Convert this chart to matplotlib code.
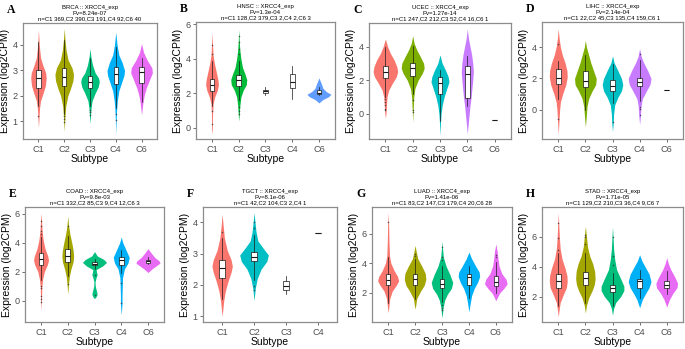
import numpy as np
import matplotlib
matplotlib.use('Agg')
import matplotlib.pyplot as plt

plt.rcParams['font.family'] = ['Liberation Sans', 'DejaVu Sans']

# ggplot hue palettes for 2..5 violins
PAL = {
    2: ['#F8766D', '#00BFC4'],
    3: ['#F8766D', '#00BA38', '#619CFF'],
    4: ['#F8766D', '#7CAE00', '#00BFC4', '#C77CFF'],
    5: ['#F8766D', '#A3A500', '#00BF7D', '#00B0F6', '#E76BF3'],
}

# ---------------- data ----------------
# box: [q1, median, q3, whisker_low, whisker_high]
# violin: list of (y, half-width) profile points, [] = no violin drawn

# A  BRCA
brca_title = ['BRCA :: XRCC4_exp', 'Pv=8.24e-07', 'n=C1 369,C2 390,C3 191,C4 92,C6 40']
brca_groups = ['C1', 'C2', 'C3', 'C4', 'C6']
brca_ticks = [1, 2, 3, 4]
brca_ylim = (0.3, 4.86)
brca_box = [[2.30, 2.68, 3.02, 1.60, 4.10], [2.38, 2.75, 3.08, 1.30, 4.20],
            [2.30, 2.55, 2.78, 1.60, 3.50], [2.48, 2.85, 3.15, 1.50, 3.90],
            [2.50, 2.92, 3.15, 1.75, 3.50]]
brca_out = [[1.2], [1.1, 1.2, 0.95], [1.25, 1.35, 1.45], [1.05, 1.3], []]
brca_violin = [
    [(4.6, 0), (4.0, .03), (3.5, .08), (3.2, .17), (2.9, .28), (2.7, .30), (2.4, .27), (2.1, .18), (1.8, .08), (1.5, .04), (1.1, .02), (.75, 0)],
    [(4.65, 0), (4.2, .03), (3.8, .07), (3.4, .15), (3.1, .30), (2.85, .36), (2.6, .34), (2.3, .25), (2.0, .14), (1.6, .06), (1.2, .03), (.6, 0)],
    [(3.85, 0), (3.5, .04), (3.2, .10), (2.9, .20), (2.7, .33), (2.55, .36), (2.35, .32), (2.1, .20), (1.8, .08), (1.5, .04), (1.2, .02), (.9, 0)],
    [(4.5, 0), (4.0, .05), (3.6, .12), (3.3, .25), (3.0, .34), (2.8, .32), (2.5, .22), (2.2, .12), (1.8, .06), (1.4, .03), (1.0, .015), (.5, 0)],
    [(4.05, 0), (3.7, .08), (3.4, .22), (3.1, .40), (2.9, .42), (2.6, .30), (2.3, .18), (2.0, .10), (1.7, .05), (1.25, 0)],
]

# B  HNSC
hnsc_title = ['HNSC :: XRCC4_exp', 'Pv=1.3e-04', 'n=C1 128,C2 379,C3 2,C4 2,C6 3']
hnsc_groups = ['C1', 'C2', 'C3', 'C4', 'C6']
hnsc_ticks = [0, 2, 4, 6]
hnsc_ylim = (-0.64, 6.14)
hnsc_box = [[2.15, 2.50, 2.85, 1.30, 3.90], [2.45, 2.75, 3.05, 1.60, 3.90],
            [2.05, 2.12, 2.22, 1.90, 2.40], [2.30, 2.65, 3.15, 1.70, 3.60],
            [1.95, 2.00, 2.20, 1.90, 2.40]]
hnsc_out = [[4.3, 4.8, 0.25, 1.0], [4.3, 4.6, 5.0, 5.3, 1.2, 1.0, 0.8], [], [], []]
hnsc_violin = [
    [(5.5, 0), (4.8, .02), (4.2, .04), (3.8, .08), (3.3, .15), (2.8, .22), (2.5, .24), (2.2, .20), (1.8, .10), (1.4, .04), (.8, .02), (0, .015), (-.4, 0)],
    [(5.7, 0), (5.0, .02), (4.5, .04), (4.0, .08), (3.5, .14), (3.1, .24), (2.8, .30), (2.5, .28), (2.2, .17), (1.8, .08), (1.3, .04), (.8, .02), (.4, 0)],
    [], [],
    [(2.9, 0), (2.6, .08), (2.3, .15), (2.1, .28), (1.95, .45), (1.8, .35), (1.65, .15), (1.45, 0)],
]

# C  UCEC
ucec_title = ['UCEC :: XRCC4_exp', 'Pv=1.27e-14', 'n=C1 247,C2 212,C3 52,C4 16,C6 1']
ucec_groups = ['C1', 'C2', 'C3', 'C4', 'C6']
ucec_ticks = [0, 2, 4]
ucec_ylim = (-1.5, 5.4)
ucec_box = [[2.10, 2.50, 2.85, 1.00, 4.00], [2.25, 2.70, 3.00, 1.20, 4.05],
            [1.15, 1.85, 2.20, -0.40, 2.60], [0.95, 2.35, 2.85, 0.45, 3.45],
            [-0.35, -0.35, -0.35, -0.35, -0.35]]
ucec_out = [[0.9, 0.7, 0.5, 0.3, 0.2], [0.8, 0.25, 0.1], [], [], []]
ucec_violin = [
    [(4.45, 0), (4.0, .08), (3.6, .18), (3.2, .32), (2.8, .42), (2.5, .45), (2.2, .40), (1.8, .25), (1.4, .12), (1.0, .06), (.5, .04), (0, .02), (-.25, 0)],
    [(4.65, 0), (4.2, .05), (3.8, .15), (3.4, .28), (3.0, .40), (2.7, .42), (2.4, .35), (2.0, .20), (1.5, .08), (1.0, .04), (.3, .02), (-.5, 0)],
    [(3.5, 0), (3.0, .08), (2.6, .20), (2.2, .30), (1.9, .33), (1.5, .25), (1.0, .15), (.5, .08), (0, .04), (-.5, .02), (-1.3, 0)],
    [(5.05, 0), (4.5, .04), (4.0, .10), (3.5, .16), (3.0, .20), (2.5, .22), (2.0, .20), (1.5, .17), (1.0, .14), (.5, .10), (0, .07), (-.5, .04), (-1.2, 0)],
    [],
]

# D  LIHC
lihc_title = ['LIHC :: XRCC4_exp', 'Pv=2.14e-04', 'n=C1 22,C2 45,C3 135,C4 159,C6 1']
lihc_groups = ['C1', 'C2', 'C3', 'C4', 'C6']
lihc_ticks = [0, 2, 4]
lihc_ylim = (-1.88, 5.62)
lihc_box = [[1.65, 2.00, 2.60, 0.70, 3.10], [1.45, 1.85, 2.45, -0.05, 3.50],
            [1.20, 1.50, 1.90, 0.40, 2.90], [1.50, 1.80, 2.05, 0.55, 3.20],
            [1.25, 1.25, 1.25, 1.25, 1.25]]
lihc_out = [[4.2, -0.6], [], [-0.8], [3.6, 0.2, 0.05, -0.35], []]
lihc_violin = [
    [(5.2, 0), (4.6, .03), (4.0, .08), (3.5, .15), (3.0, .25), (2.5, .32), (2.1, .33), (1.6, .28), (1.0, .16), (.5, .08), (0, .05), (-.6, .03), (-1.6, 0)],
    [(4.45, 0), (4.0, .04), (3.5, .12), (3.0, .20), (2.5, .30), (2.0, .40), (1.6, .38), (1.2, .25), (.7, .12), (.2, .06), (-.5, .03), (-1.1, 0)],
    [(3.45, 0), (3.0, .06), (2.5, .20), (2.0, .33), (1.6, .38), (1.2, .33), (.8, .20), (.3, .08), (-.3, .04), (-.8, .03), (-1.4, 0)],
    [(3.9, 0), (3.4, .06), (3.0, .15), (2.5, .30), (2.0, .42), (1.6, .38), (1.2, .25), (.7, .10), (.2, .05), (-.4, .03), (-.95, 0)],
    [],
]

# E  COAD
coad_title = ['COAD :: XRCC4_exp', 'Pv=9.8e-03', 'n=C1 332,C2 85,C3 9,C4 12,C6 3']
coad_groups = ['C1', 'C2', 'C3', 'C4', 'C6']
coad_ticks = [0, 2, 4, 6]
coad_ylim = (-1.47, 6.48)
coad_box = [[2.50, 2.90, 3.30, 1.40, 4.40], [2.65, 3.10, 3.55, 1.70, 4.50],
            [2.45, 2.55, 2.70, 2.20, 2.90], [2.45, 2.85, 3.05, 1.90, 3.50],
            [2.60, 2.75, 2.85, 2.55, 3.05]]
coad_out = [[4.6, 4.8, 5.2, 5.5, 1.0, 0.9, 0.3, 0.1, -0.1], [5.2, 1.15], [1.8, 0.4], [1.25, -0.15], []]
coad_violin = [
    [(6.05, 0), (5.5, .02), (4.8, .04), (4.2, .08), (3.6, .15), (3.1, .25), (2.8, .28), (2.5, .24), (2.0, .12), (1.5, .06), (1.0, .03), (.3, .02), (-.7, 0)],
    [(5.85, 0), (5.2, .03), (4.6, .08), (4.0, .15), (3.5, .20), (3.1, .22), (2.7, .20), (2.2, .12), (1.7, .06), (1.2, .03), (.45, 0)],
    [(3.4, 0), (3.1, .10), (2.85, .35), (2.65, .45), (2.4, .30), (2.15, .06), (1.95, .08), (1.8, .10), (1.6, .06), (1.3, .02), (1.0, .03), (.7, .07), (.45, .10), (.25, .05), (.15, 0)],
    [(4.4, 0), (4.0, .06), (3.5, .18), (3.0, .30), (2.6, .25), (2.2, .12), (1.6, .05), (1.0, .04), (.4, .03), (-.2, .03), (-1.0, 0)],
    [(3.6, 0), (3.3, .12), (3.0, .25), (2.75, .42), (2.6, .45), (2.4, .30), (2.2, .15), (1.95, 0)],
]

# F  TGCT
tgct_title = ['TGCT :: XRCC4_exp', 'Pv=8.1e-06', 'n=C1 42,C2 104,C3 2,C4 1']
tgct_groups = ['C1', 'C2', 'C3', 'C4']
tgct_ticks = [1, 2, 3, 4]
tgct_ylim = (0.82, 4.48)
tgct_box = [[2.22, 2.55, 2.80, 1.55, 3.50], [2.75, 2.88, 3.05, 2.15, 3.60],
            [1.85, 1.98, 2.12, 1.70, 2.28], [3.65, 3.65, 3.65, 3.65, 3.65]]
tgct_out = [[3.7], [3.8, 4.0, 1.95, 1.85], [], []]
tgct_violin = [
    [(4.25, 0), (3.9, .03), (3.5, .07), (3.1, .16), (2.8, .28), (2.6, .32), (2.4, .28), (2.1, .18), (1.8, .10), (1.5, .05), (1.2, .02), (1.0, 0)],
    [(4.3, 0), (4.0, .03), (3.7, .06), (3.4, .12), (3.15, .30), (2.95, .45), (2.75, .40), (2.5, .22), (2.2, .10), (1.9, .04), (1.5, 0)],
    [], [],
]

# G  LUAD
luad_title = ['LUAD :: XRCC4_exp', 'Pv=1.41e-06', 'n=C1 83,C2 147,C3 179,C4 20,C6 28']
luad_groups = ['C1', 'C2', 'C3', 'C4', 'C6']
luad_ticks = [2, 4, 6]
luad_ylim = (0.02, 7.8)
luad_box = [[2.55, 2.85, 3.30, 1.30, 4.40], [2.55, 2.95, 3.25, 1.60, 4.30],
            [2.30, 2.60, 2.90, 1.40, 3.80], [2.55, 3.05, 3.30, 1.65, 3.80],
            [2.45, 2.70, 3.10, 2.00, 4.10]]
luad_out = [[6.8], [4.6, 4.5], [5.1, 4.4, 4.2, 1.2, 1.0, 0.8], [], [4.4, 4.55]]
luad_violin = [
    [(7.45, 0), (6.5, .02), (5.5, .03), (4.5, .05), (4.0, .10), (3.5, .22), (3.1, .35), (2.8, .39), (2.5, .30), (2.1, .15), (1.6, .06), (1.1, .03), (.65, 0)],
    [(5.2, 0), (4.8, .04), (4.3, .10), (3.8, .25), (3.3, .38), (2.9, .40), (2.5, .34), (2.1, .20), (1.6, .06), (1.2, .03), (.9, 0)],
    [(5.5, 0), (5.0, .02), (4.4, .05), (3.8, .15), (3.2, .30), (2.7, .40), (2.3, .35), (1.9, .20), (1.5, .10), (1.0, .04), (.6, .02), (.3, 0)],
    [(4.75, 0), (4.3, .10), (3.8, .25), (3.4, .38), (3.1, .40), (2.7, .32), (2.3, .20), (1.8, .10), (1.3, .05), (.7, 0)],
    [(5.3, 0), (4.8, .05), (4.3, .08), (3.8, .12), (3.3, .22), (2.9, .38), (2.6, .42), (2.3, .30), (2.0, .15), (1.7, .06), (1.45, 0)],
]

# H  STAD
stad_title = ['STAD :: XRCC4_exp', 'Pv=1.71e-05', 'n=C1 129,C2 210,C3 36,C4 9,C6 7']
stad_groups = ['C1', 'C2', 'C3', 'C4', 'C6']
stad_ticks = [2, 4, 6]
stad_ylim = (0.3, 7.99)
stad_box = [[2.60, 3.05, 3.50, 1.40, 4.90], [2.75, 3.25, 3.65, 1.60, 4.90],
            [2.30, 2.60, 2.80, 1.40, 3.60], [2.55, 3.05, 3.15, 1.90, 3.80],
            [2.55, 2.80, 3.05, 2.20, 3.70]]
stad_out = [[5.9, 6.9, 5.1], [6.0, 6.1, 5.5], [6.0, 4.7, 4.1], [], []]
stad_violin = [
    [(7.6, 0), (6.8, .02), (6.0, .04), (5.2, .07), (4.5, .14), (3.9, .25), (3.4, .32), (3.0, .33), (2.6, .30), (2.1, .18), (1.6, .07), (1.1, .03), (.65, 0)],
    [(6.7, 0), (6.0, .04), (5.3, .08), (4.7, .16), (4.2, .27), (3.7, .34), (3.2, .36), (2.8, .33), (2.4, .25), (1.9, .12), (1.4, .04), (.9, 0)],
    [(6.65, 0), (6.0, .02), (5.2, .04), (4.5, .08), (3.8, .15), (3.2, .30), (2.7, .42), (2.4, .42), (2.0, .30), (1.6, .12), (1.2, .04), (.75, 0)],
    [(4.8, 0), (4.4, .08), (4.0, .20), (3.5, .35), (3.0, .42), (2.6, .35), (2.2, .22), (1.8, .10), (1.25, 0)],
    [(4.6, 0), (4.2, .06), (3.8, .15), (3.3, .30), (2.9, .40), (2.6, .38), (2.2, .22), (1.8, .10), (1.3, 0)],
]

# panel letters and pixel boxes (left, top, right, bottom) in a 685x349 canvas
panels = [
    ('A', brca_title, brca_groups, brca_ticks, brca_ylim, brca_box, brca_out, brca_violin, (23, 23, 157, 139)),
    ('B', hnsc_title, hnsc_groups, hnsc_ticks, hnsc_ylim, hnsc_box, hnsc_out, hnsc_violin, (196, 22, 335, 139)),
    ('C', ucec_title, ucec_groups, ucec_ticks, ucec_ylim, ucec_box, ucec_out, ucec_violin, (369, 23, 511, 139)),
    ('D', lihc_title, lihc_groups, lihc_ticks, lihc_ylim, lihc_box, lihc_out, lihc_violin, (542, 22, 683, 139)),
    ('E', coad_title, coad_groups, coad_ticks, coad_ylim, coad_box, coad_out, coad_violin, (25, 207, 164, 322)),
    ('F', tgct_title, tgct_groups, tgct_ticks, tgct_ylim, tgct_box, tgct_out, tgct_violin, (203, 207, 337, 322)),
    ('G', luad_title, luad_groups, luad_ticks, luad_ylim, luad_box, luad_out, luad_violin, (372, 207, 512, 322)),
    ('H', stad_title, stad_groups, stad_ticks, stad_ylim, stad_box, stad_out, stad_violin, (542, 207, 683, 322)),
]

W, H = 685, 349
fig = plt.figure(figsize=(W / 100, H / 100), dpi=100)

for letter, title, groups, ticks, ylim, box, out, violin, (l, t, r, b) in panels:
    ax = fig.add_axes([l / W, 1 - b / H, (r - l) / W, (b - t) / H])
    pos = np.arange(1, len(groups) + 1)

    # violins (only for groups that have one)
    drawn = [i for i, v in enumerate(violin) if v]
    colors = PAL[len(drawn)]
    for k, i in enumerate(drawn):
        ys = np.array([p[0] for p in violin[i]])
        ws = np.array([p[1] for p in violin[i]])
        ax.fill_betweenx(ys, pos[i] - ws, pos[i] + ws, color=colors[k], lw=0, zorder=1)

    stats = [dict(q1=s[0], med=s[1], q3=s[2], whislo=s[3], whishi=s[4], fliers=o)
             for s, o in zip(box, out)]
    ax.bxp(stats, positions=pos, widths=0.17, patch_artist=True, showcaps=False,
           boxprops=dict(facecolor='white', edgecolor='#1a1a1a', lw=0.5),
           medianprops=dict(color='#1a1a1a', lw=0.8),
           whiskerprops=dict(color='#1a1a1a', lw=0.5),
           flierprops=dict(marker='o', ms=1.1, mfc='#333333', mec='none', alpha=0.8),
           manage_ticks=False, zorder=3)

    ax.set_xlim(0.4, len(groups) + 0.6)
    ax.set_ylim(*ylim)
    ax.set_xticks(pos)
    ax.set_xticklabels(groups)
    ax.set_yticks(ticks)
    ax.tick_params(labelsize=6.6, labelcolor='#4D4D4D', color='#333333',
                   length=2.5, width=0.5, pad=1.5)
    for sp in ax.spines.values():
        sp.set_color('#8c8c8c')
        sp.set_linewidth(0.9)
    ax.set_xlabel('Subtype', fontsize=7.5, labelpad=0.5)
    ax.set_ylabel('Expression (log2CPM)', fontsize=7.5, labelpad=1.5)
    ax.set_title('\n'.join(title), fontsize=4.3, pad=2, linespacing=1.15)
    fig.text((l - 16) / W, 1 - (t - 13) / H, letter, fontsize=8.5, fontweight='bold',
             family='Liberation Serif', va='center', ha='left')

fig.savefig('out.png', dpi=100)
